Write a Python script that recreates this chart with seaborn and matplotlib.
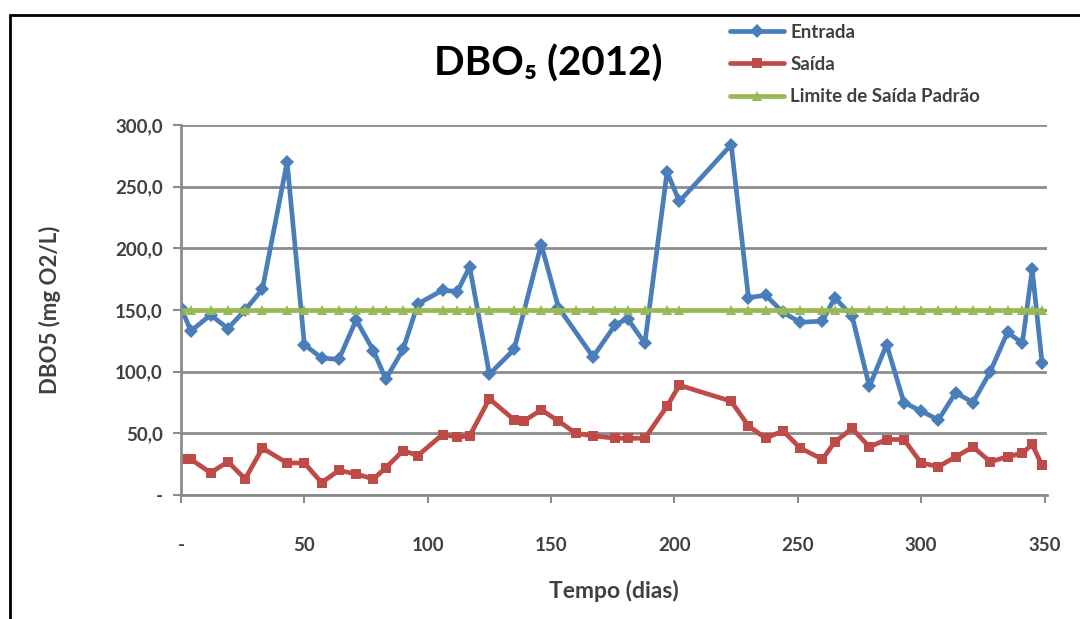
import matplotlib
matplotlib.use("Agg")
import matplotlib.pyplot as plt
from matplotlib.lines import Line2D
from matplotlib.ticker import FuncFormatter, MultipleLocator
import seaborn as sns
import pandas as pd

# Sampling days (tempo, dias) for the effluent and the standard limit
dias = [0, 4, 12, 19, 26, 33, 43, 50, 57, 64, 71, 78, 83, 90, 96, 106, 112, 117,
        125, 135, 139, 146, 153, 160, 167, 176, 181, 188, 197, 202, 223, 230, 237,
        244, 251, 260, 265, 272, 279, 286, 293, 300, 307, 314, 321, 328, 335, 341,
        345, 349]

# Influent sampling days (no readings on days 139 and 160)
dias_entrada = [0, 4, 12, 19, 26, 33, 43, 50, 57, 64, 71, 78, 83, 90, 96, 106, 112,
                117, 125, 135, 146, 153, 167, 176, 181, 188, 197, 202, 223, 230, 237,
                244, 251, 260, 265, 272, 279, 286, 293, 300, 307, 314, 321, 328, 335,
                341, 345, 349]

entrada = [152, 133, 146, 135, 150, 167, 270, 122, 111, 110, 142, 117, 94, 118, 155,
           166, 165, 185, 98, 118, 203, 152, 112, 138, 143, 123, 262, 238, 284, 160,
           162, 148, 140, 141, 160, 145, 88, 122, 75, 68, 61, 83, 75, 100, 132, 123,
           183, 107]

saida = [29, 29, 18, 27, 13, 38, 26, 26, 10, 20, 17, 13, 22, 36, 32, 49, 47, 48, 78,
         61, 60, 69, 60, 50, 48, 46, 46, 46, 72, 89, 76, 56, 46, 52, 38, 29, 43, 54,
         39, 45, 45, 26, 23, 31, 39, 27, 31, 34, 41, 24]

limite = [150] * len(dias)

series = ["Entrada", "Saída", "Limite de Saída Padrão"]

df = pd.concat([
    pd.DataFrame({"dia": dias_entrada, "valor": entrada, "serie": series[0]}),
    pd.DataFrame({"dia": dias, "valor": saida, "serie": series[1]}),
    pd.DataFrame({"dia": dias, "valor": limite, "serie": series[2]}),
], ignore_index=True)

sns.set_theme(style="white")
plt.rcParams["font.family"] = ["Lato", "DejaVu Sans"]
plt.rcParams["font.weight"] = "bold"

text_color = "#404040"
grid_color = "#8c8c8c"
palette = {"Entrada": "#4a7ebb", "Saída": "#be4b48",
           "Limite de Saída Padrão": "#98b954"}
markers = {"Entrada": "D", "Saída": "s", "Limite de Saída Padrão": "^"}

fig = plt.figure(figsize=(10.8, 6.19), dpi=100)
ax = fig.add_axes([181 / 1080, 1 - 495 / 619, 866 / 1080, 370 / 619])

sns.lineplot(data=df, x="dia", y="valor", hue="serie", style="serie",
             hue_order=series, style_order=series, palette=palette,
             markers=markers, dashes=False, linewidth=3.4, markersize=7.5,
             markeredgewidth=0, ax=ax, sort=False)

ax.set_xlim(0, 351)
ax.set_ylim(0, 300)
ax.xaxis.set_major_locator(MultipleLocator(50))
ax.yaxis.set_major_locator(MultipleLocator(50))


def fmt_y(v, pos):
    return "-" if abs(v) < 1e-9 else f"{v:.1f}".replace(".", ",")


def fmt_x(v, pos):
    return "-" if abs(v) < 1e-9 else f"{v:.0f}"


ax.yaxis.set_major_formatter(FuncFormatter(fmt_y))
ax.xaxis.set_major_formatter(FuncFormatter(fmt_x))

ax.grid(axis="y", color=grid_color, linewidth=2)
ax.grid(axis="x", visible=False)
ax.set_axisbelow(True)

for side in ("top", "right"):
    ax.spines[side].set_visible(False)
for side in ("left", "bottom"):
    ax.spines[side].set_color(grid_color)
    ax.spines[side].set_linewidth(2)

ax.tick_params(axis="y", which="major", left=True, length=6, width=1.5,
               color=grid_color, pad=7, labelsize=13.5, labelcolor=text_color)
ax.tick_params(axis="x", which="major", bottom=True, length=6, width=1.5,
               color=grid_color, pad=24, labelsize=13.5, labelcolor=text_color)
for lab in ax.get_xticklabels() + ax.get_yticklabels():
    lab.set_fontweight("bold")

ax.set_xlabel("Tempo (dias)", fontsize=16.5, fontweight="bold", color=text_color,
              labelpad=19)
ax.set_ylabel("DBO5 (mg O2/L)", fontsize=16, fontweight="bold", color=text_color,
              labelpad=39)

fig.text(548 / 1080, 1 - 64 / 619, "DBO₅ (2012)", fontsize=29, fontweight="bold",
         color="black", ha="center", va="center")

sns.move_legend(ax, loc="upper left", bbox_to_anchor=(722 / 1080, 1 - 16 / 619),
                bbox_transform=fig.transFigure, frameon=False, title=None,
                fontsize=13.5, handlelength=2.9, handletextpad=0.35,
                labelspacing=0.82, borderaxespad=0)
leg = ax.get_legend()
for t in leg.get_texts():
    t.set_color(text_color)
    t.set_fontweight("bold")
for h in leg.legend_handles:
    h.set_linewidth(3.4)
    h.set_markeredgewidth(0)

# Black frame on the top and left edges
fig.add_artist(Line2D([10 / 1080, 10 / 1080], [0, 1 - 15 / 619],
                      transform=fig.transFigure, color="black", linewidth=2))
fig.add_artist(Line2D([10 / 1080, 1], [1 - 15 / 619, 1 - 15 / 619],
                      transform=fig.transFigure, color="black", linewidth=2))

fig.savefig("out.png", dpi=100, facecolor="white")
